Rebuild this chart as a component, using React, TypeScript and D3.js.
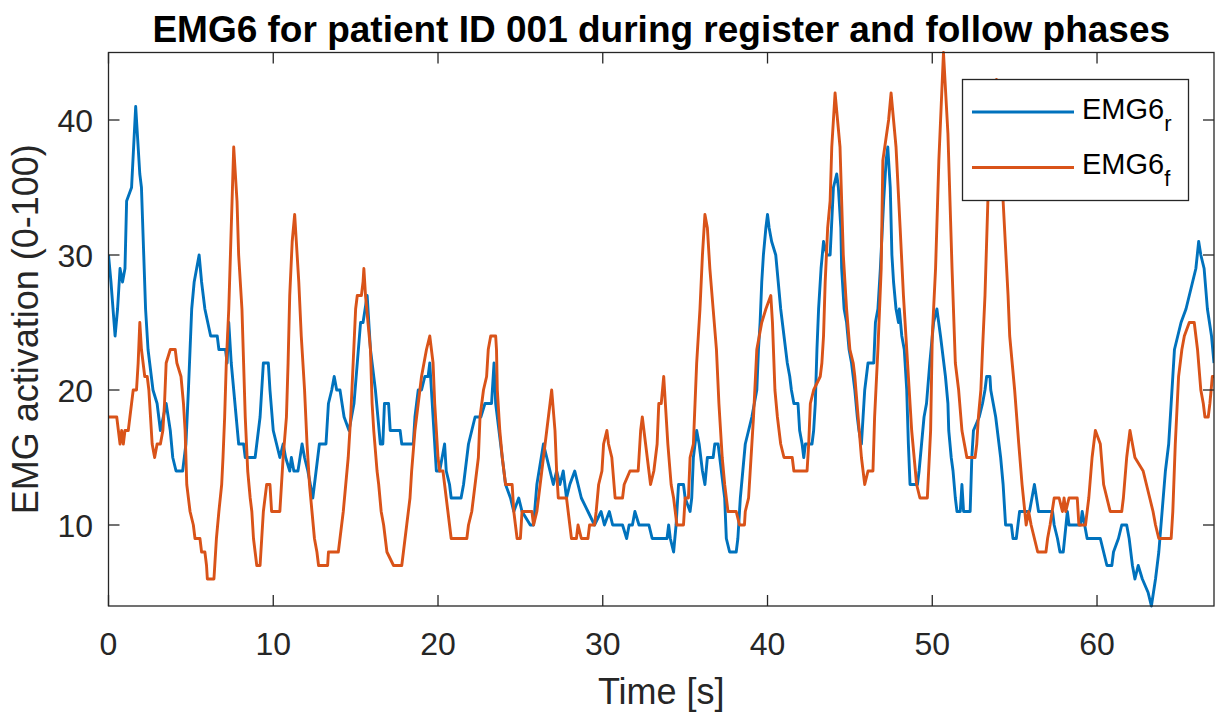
import React, { useEffect, useRef } from "react";
import * as d3 from "d3";

// axes settings
const xTicks = [0, 10, 20, 30, 40, 50, 60];
const yTicks = [10, 20, 30, 40];
const xDomain = [0, 67.1];
const yDomain = [4, 45];

// [time (s), activation] vertices
const emg6r: [number, number][] = [
  [0, 30], [0.15, 28], [0.4, 24], [0.55, 26], [0.7, 29], [0.85, 28], [1.0, 29], [1.1, 34], [1.4, 35],
  [1.65, 41], [1.9, 36], [2.0, 35], [2.25, 26], [2.4, 23], [2.5, 22], [2.7, 20], [2.95, 19], [3.15, 17],
  [3.5, 19], [3.75, 17], [3.9, 15], [4.1, 14], [4.5, 14], [4.7, 16], [4.85, 20], [5.05, 26], [5.2, 28],
  [5.35, 29], [5.5, 30], [5.65, 28], [5.85, 26], [6.2, 24], [6.6, 24], [6.7, 23], [7.1, 23], [7.2, 22],
  [7.3, 25], [7.45, 22], [7.6, 20], [7.75, 18], [7.9, 16], [8.2, 16], [8.3, 15], [8.9, 15], [9.0, 16],
  [9.2, 18], [9.4, 22], [9.7, 22], [9.8, 20], [10.0, 17], [10.2, 16], [10.4, 15], [10.6, 16], [10.75, 15],
  [11.0, 14], [11.1, 15], [11.25, 14], [11.5, 14], [11.75, 16], [11.9, 15], [12.1, 14], [12.4, 12],
  [12.6, 14], [12.8, 16], [13.2, 16], [13.35, 19], [13.55, 20], [13.7, 21], [13.85, 20], [14.05, 20],
  [14.3, 18], [14.6, 17], [14.9, 19], [15.1, 22], [15.3, 25], [15.45, 25], [15.7, 27], [15.9, 23],
  [16.2, 20], [16.5, 16], [16.65, 16], [16.75, 19], [17.0, 19], [17.1, 17], [17.7, 17], [17.8, 16],
  [18.5, 16], [18.6, 18], [18.7, 19], [18.8, 20], [19.0, 20], [19.2, 21], [19.4, 21], [19.5, 22],
  [19.7, 18], [19.9, 14], [20.1, 14], [20.4, 16], [20.5, 14], [20.7, 13], [20.8, 12], [21.4, 12],
  [21.55, 13], [21.65, 14], [21.85, 16], [22.25, 18], [22.6, 18], [22.85, 19], [23.25, 19], [23.4, 22],
  [23.5, 19], [23.8, 16], [24.1, 13], [24.4, 12], [24.6, 11], [24.9, 12], [25.1, 11], [25.6, 10],
  [25.8, 10], [26.0, 13], [26.4, 16], [26.6, 15], [26.8, 14], [27.0, 13], [27.2, 14], [27.4, 13],
  [27.6, 14], [27.8, 12], [28.0, 13], [28.3, 14], [28.7, 12], [29.1, 11], [29.5, 10], [29.9, 11],
  [30.1, 10], [30.4, 11], [30.6, 10], [31.2, 10], [31.45, 9], [31.6, 10], [31.8, 10], [31.95, 11],
  [32.2, 10], [32.8, 10], [33.0, 9], [33.9, 9], [34.0, 10], [34.1, 9], [34.3, 8], [34.45, 10], [34.6, 13],
  [34.9, 13], [35.0, 12], [35.3, 11], [35.4, 12], [35.5, 15], [35.7, 17], [35.85, 16], [36.05, 14],
  [36.2, 13], [36.35, 15], [36.7, 15], [36.8, 16], [37.0, 16], [37.2, 14], [37.4, 12], [37.5, 9],
  [37.7, 8], [38.1, 8], [38.2, 9], [38.35, 12], [38.5, 14], [38.65, 16], [38.85, 17], [39.05, 18],
  [39.35, 20], [39.45, 23], [39.55, 25], [39.65, 28], [39.75, 30], [39.9, 32], [40.0, 33], [40.1, 32],
  [40.25, 31], [40.5, 30], [40.65, 28], [40.8, 26], [41.0, 24], [41.2, 22], [41.35, 21], [41.45, 20],
  [41.6, 19], [41.85, 19], [41.95, 17], [42.1, 16], [42.2, 15], [42.3, 16], [42.7, 16], [42.8, 17],
  [42.9, 19], [43.0, 23], [43.1, 26], [43.25, 29], [43.4, 31], [43.6, 30], [43.8, 30], [44.0, 35],
  [44.2, 36], [44.3, 35], [44.45, 32], [44.5, 29], [44.65, 26], [44.8, 25], [44.95, 23], [45.1, 22],
  [45.3, 20], [45.45, 18], [45.55, 17], [45.7, 16], [45.8, 18], [45.9, 20], [46.1, 22], [46.45, 22],
  [46.55, 25], [46.7, 26], [46.85, 29], [47.05, 34], [47.2, 37], [47.3, 38], [47.45, 35], [47.55, 30],
  [47.65, 28], [47.8, 26], [47.95, 25], [48.0, 26], [48.15, 24], [48.3, 23], [48.45, 20], [48.55, 16],
  [48.65, 13], [49.1, 13], [49.2, 14], [49.35, 16], [49.5, 18], [49.65, 19], [49.85, 22], [50.08, 25],
  [50.28, 26], [50.5, 24], [50.8, 21], [50.95, 19], [51.0, 17], [51.15, 15], [51.26, 14], [51.4, 12],
  [51.5, 11], [51.7, 11], [51.8, 13], [51.9, 11], [52.3, 11], [52.4, 15], [52.5, 17], [52.85, 18],
  [53.05, 19], [53.2, 20], [53.3, 21], [53.5, 21], [53.55, 20], [53.7, 19], [53.85, 18], [54.05, 16],
  [54.15, 15], [54.3, 13], [54.4, 11], [54.45, 10], [54.8, 10], [54.9, 9], [55.1, 9], [55.3, 11],
  [55.9, 11], [56.2, 13], [56.45, 11], [57.3, 11], [57.4, 10], [57.6, 9], [57.75, 8], [57.95, 8],
  [58.2, 11], [58.3, 10], [59.0, 10], [59.1, 11], [59.4, 9], [60.2, 9], [60.4, 8], [60.6, 7], [60.9, 7],
  [61.0, 8], [61.3, 9], [61.5, 10], [61.8, 10], [61.95, 9], [62.15, 7], [62.3, 6], [62.5, 7], [62.75, 6],
  [63.1, 5], [63.3, 4], [63.55, 6], [63.75, 8], [63.95, 11], [64.15, 14], [64.35, 16], [64.5, 19],
  [64.6, 21], [64.7, 23], [64.9, 24], [65.1, 25], [65.4, 26], [65.6, 27], [65.8, 28], [66.0, 29],
  [66.17, 31], [66.3, 30], [66.5, 29], [66.7, 26], [66.95, 24], [67.1, 22],
];

const emg6f: [number, number][] = [
  [0, 18], [0.5, 18], [0.6, 17], [0.7, 16], [0.8, 17], [0.9, 16], [1.0, 17], [1.2, 17], [1.3, 18],
  [1.4, 19], [1.5, 20], [1.7, 20], [1.8, 22], [1.9, 25], [2.0, 23], [2.2, 21], [2.35, 21], [2.45, 20],
  [2.55, 18], [2.65, 16], [2.8, 15], [2.95, 16], [3.15, 16], [3.3, 17], [3.4, 19], [3.5, 22], [3.75, 23],
  [4.05, 23], [4.15, 22], [4.4, 21], [4.55, 19], [4.65, 17], [4.75, 13], [4.95, 11], [5.15, 10],
  [5.25, 9], [5.55, 9], [5.65, 8], [5.85, 8], [5.95, 7], [6.0, 6], [6.4, 6], [6.45, 7], [6.55, 9],
  [6.7, 11], [6.87, 13], [6.95, 15], [7.05, 18], [7.15, 22], [7.3, 26], [7.4, 30], [7.5, 34], [7.6, 38],
  [7.8, 34], [7.9, 30], [8.1, 26], [8.2, 22], [8.3, 18], [8.45, 14], [8.6, 12], [8.7, 11], [8.8, 9],
  [8.9, 8], [9.0, 7], [9.2, 7], [9.3, 9], [9.4, 11], [9.6, 13], [9.8, 13], [9.9, 11], [10.4, 11],
  [10.5, 13], [10.6, 15], [10.8, 18], [10.9, 22], [11.0, 27], [11.15, 31], [11.3, 33], [11.4, 31],
  [11.55, 28], [11.7, 24], [11.9, 20], [12.05, 16], [12.2, 13], [12.35, 11], [12.5, 9], [12.65, 8],
  [12.75, 7], [13.3, 7], [13.35, 8], [13.95, 8], [14.05, 9], [14.25, 11], [14.4, 13], [14.55, 15],
  [14.7, 18], [14.85, 22], [15.0, 26], [15.1, 27], [15.35, 27], [15.45, 28], [15.5, 29], [15.6, 27],
  [15.9, 23], [16.0, 19], [16.1, 17], [16.3, 14], [16.4, 13], [16.55, 11], [16.7, 10], [16.9, 8],
  [17.3, 7], [17.8, 7], [17.9, 8], [18.1, 10], [18.3, 12], [18.4, 14], [18.6, 17], [18.8, 19], [19.0, 21],
  [19.3, 23], [19.5, 24], [19.7, 22], [19.8, 19], [20.0, 15], [20.1, 14], [20.3, 14], [20.4, 13],
  [20.6, 11], [20.7, 10], [20.8, 9], [21.75, 9], [21.85, 10], [22.05, 11], [22.25, 13], [22.45, 15],
  [22.55, 18], [22.76, 20], [22.95, 21], [23.05, 23], [23.2, 24], [23.5, 24], [23.55, 23], [23.6, 20],
  [23.75, 17], [23.9, 15], [24.1, 13], [24.5, 13], [24.6, 11], [24.7, 10], [24.8, 9], [25.0, 9],
  [25.1, 11], [25.7, 11], [25.8, 10], [26.0, 11], [26.2, 13], [26.4, 15], [26.6, 17], [26.9, 20],
  [27.1, 17], [27.2, 14], [27.3, 12], [27.8, 12], [27.9, 11], [28.0, 10], [28.1, 9], [28.4, 9],
  [28.5, 10], [28.7, 9], [29.1, 9], [29.2, 10], [29.5, 10], [29.6, 11], [29.75, 13], [29.95, 14],
  [30.05, 16], [30.25, 17], [30.35, 16], [30.55, 15], [30.75, 12], [31.2, 12], [31.3, 13], [31.65, 14],
  [32.15, 14], [32.2, 15], [32.3, 17], [32.4, 18], [32.6, 16], [32.8, 14], [32.9, 13], [33.1, 14],
  [33.3, 16], [33.4, 19], [33.55, 19], [33.7, 21], [33.8, 19], [33.95, 16], [34.15, 13], [34.3, 12],
  [34.5, 10], [34.9, 10], [35.0, 12], [35.2, 12], [35.3, 15], [35.5, 16], [35.7, 22], [35.9, 26],
  [36.05, 30], [36.2, 33], [36.35, 32], [36.5, 29], [36.7, 26], [36.9, 23], [37.05, 19], [37.25, 15],
  [37.4, 13], [37.6, 11], [38.1, 11], [38.3, 10], [38.6, 10], [38.65, 11], [38.85, 12], [39.0, 15],
  [39.15, 18], [39.35, 23], [39.5, 24], [39.65, 25], [39.9, 26], [40.2, 27], [40.3, 25], [40.45, 20],
  [40.6, 18], [40.8, 16], [41.0, 15], [41.5, 15], [41.6, 14], [42.4, 14], [42.5, 16], [42.6, 19],
  [42.8, 20], [43.2, 21], [43.3, 22], [43.4, 24], [43.5, 28], [43.65, 32], [43.8, 34], [43.9, 38],
  [44.1, 42], [44.25, 40], [44.4, 38], [44.5, 34], [44.6, 30], [44.8, 26], [45.0, 23], [45.2, 22],
  [45.3, 21], [45.5, 18], [45.7, 15], [45.9, 13], [46.1, 14], [46.4, 14], [46.5, 18], [46.7, 23],
  [46.9, 29], [47.0, 37], [47.35, 40], [47.5, 42], [47.65, 40], [47.8, 38], [48.05, 32], [48.25, 27],
  [48.35, 25], [48.55, 21], [48.75, 17], [49.05, 13], [49.25, 12], [49.7, 12], [49.9, 17], [50.0, 24],
  [50.2, 29], [50.4, 37], [50.68, 45], [50.95, 39], [51.2, 29], [51.4, 22], [51.6, 20], [51.8, 17],
  [51.95, 16], [52.1, 15], [52.6, 15], [52.7, 16], [52.8, 18], [52.95, 20], [53.05, 23], [53.2, 27],
  [53.4, 35], [53.6, 40], [53.9, 43], [54.3, 34], [54.6, 27], [54.7, 24], [55.0, 20], [55.25, 16],
  [55.45, 13], [55.7, 10], [55.85, 11], [56.0, 10], [56.4, 8], [56.9, 8], [57.0, 9], [57.15, 10],
  [57.4, 12], [57.7, 12], [57.9, 11], [58.0, 12], [58.1, 11], [58.3, 12], [58.8, 12], [58.9, 10],
  [59.3, 10], [59.5, 12], [59.7, 15], [59.9, 17], [60.2, 16], [60.4, 13], [60.8, 11], [61.5, 11],
  [61.6, 12], [61.8, 15], [62.0, 17], [62.3, 15], [62.8, 14], [63.0, 13], [63.2, 12], [63.4, 11],
  [63.55, 10], [63.75, 9], [64.5, 9], [64.6, 11], [64.75, 16], [64.95, 21], [65.15, 23], [65.3, 24],
  [65.6, 25], [65.9, 25], [66.1, 23], [66.3, 20], [66.45, 19], [66.55, 18], [66.75, 18], [66.85, 19],
  [67.0, 21], [67.1, 21],
];

const seriesData = [emg6r, emg6f];
const seriesSubs = ["r", "f"];
const seriesColors = ["#0072BD", "#D95319"];

const W = 1215;
const H = 716;
const plot = { left: 108.5, right: 1214, top: 52.5, bottom: 606 };
const font = "'Liberation Sans', Arial, Helvetica, sans-serif";
const axisColor = "#262626";

function EmgChart() {
  const ref = useRef<SVGSVGElement>(null);

  useEffect(() => {
    const svg = d3.select(ref.current);
    svg.selectAll("*").remove();

    const x = d3.scaleLinear().domain(xDomain).range([plot.left, plot.right]);
    const y = d3.scaleLinear().domain(yDomain).range([plot.bottom, plot.top]);

    svg.append("rect").attr("width", W).attr("height", H).attr("fill", "#fff");

    svg.append("clipPath").attr("id", "plot-clip")
      .append("rect")
      .attr("x", plot.left).attr("y", plot.top - 2)
      .attr("width", plot.right - plot.left).attr("height", plot.bottom - plot.top + 4);

    // data lines
    const line = d3.line<[number, number]>().x(d => x(d[0])).y(d => y(d[1]));
    svg.append("g").attr("clip-path", "url(#plot-clip)")
      .selectAll("path")
      .data(seriesData)
      .join("path")
        .attr("d", d => line(d))
        .attr("fill", "none")
        .attr("stroke", (_, i) => seriesColors[i])
        .attr("stroke-width", 2.9)
        .attr("stroke-linejoin", "round");

    // box + inward ticks on all four sides
    const axes = svg.append("g").attr("stroke", axisColor).attr("stroke-width", 1.3);
    axes.append("rect")
      .attr("x", plot.left).attr("y", plot.top)
      .attr("width", plot.right - plot.left).attr("height", plot.bottom - plot.top)
      .attr("fill", "none");
    const tl = 11;
    xTicks.forEach(t => {
      axes.append("line").attr("x1", x(t)).attr("x2", x(t)).attr("y1", plot.bottom).attr("y2", plot.bottom - tl);
      axes.append("line").attr("x1", x(t)).attr("x2", x(t)).attr("y1", plot.top).attr("y2", plot.top + tl);
    });
    yTicks.forEach(t => {
      axes.append("line").attr("y1", y(t)).attr("y2", y(t)).attr("x1", plot.left).attr("x2", plot.left + tl);
      axes.append("line").attr("y1", y(t)).attr("y2", y(t)).attr("x1", plot.right).attr("x2", plot.right - tl);
    });

    // tick labels
    svg.append("g").selectAll("text").data(xTicks).join("text")
      .attr("x", d => x(d)).attr("y", 655)
      .attr("text-anchor", "middle")
      .style("font-family", font).style("font-size", "32px").attr("fill", axisColor)
      .text(d => d);
    svg.append("g").selectAll("text").data(yTicks).join("text")
      .attr("x", 93).attr("y", d => y(d) + 11.5)
      .attr("text-anchor", "end")
      .style("font-family", font).style("font-size", "32px").attr("fill", axisColor)
      .text(d => d);

    // axis labels + title
    svg.append("text")
      .attr("x", (plot.left + plot.right) / 2).attr("y", 704)
      .attr("text-anchor", "middle")
      .style("font-family", font).style("font-size", "36px").attr("fill", axisColor)
      .text("Time [s]");
    svg.append("text")
      .attr("transform", `translate(38, ${(plot.top + plot.bottom) / 2}) rotate(-90)`)
      .attr("text-anchor", "middle")
      .style("font-family", font).style("font-size", "36px").attr("fill", axisColor)
      .text("EMG activation (0-100)");
    svg.append("text")
      .attr("x", (plot.left + plot.right) / 2).attr("y", 42)
      .attr("text-anchor", "middle")
      .style("font-family", font).style("font-size", "37px").style("font-weight", "bold")
      .attr("fill", "#000")
      .text("EMG6 for patient ID 001 during register and follow phases");

    // legend
    const lg = svg.append("g");
    lg.append("rect")
      .attr("x", 962.5).attr("y", 79.5).attr("width", 226).attr("height", 121)
      .attr("fill", "#fff").attr("stroke", axisColor).attr("stroke-width", 1.3);
    seriesSubs.forEach((s, i) => {
      const ly = 112 + i * 55.5;
      lg.append("line")
        .attr("x1", 972).attr("x2", 1074).attr("y1", ly).attr("y2", ly)
        .attr("stroke", seriesColors[i]).attr("stroke-width", 2.9);
      const t = lg.append("text")
        .attr("x", 1082).attr("y", ly + 6.5)
        .style("font-family", font).style("font-size", "29px").attr("fill", "#000");
      t.append("tspan").text("EMG6");
      t.append("tspan").attr("dy", 12).style("font-size", "22px").text(s);
    });
  }, []);

  return (
    <svg
      ref={ref}
      width={W}
      height={H}
      style={{ position: "absolute", left: 0, top: 0, display: "block" }}
    />
  );
}

export default function App() {
  return <EmgChart />;
}
